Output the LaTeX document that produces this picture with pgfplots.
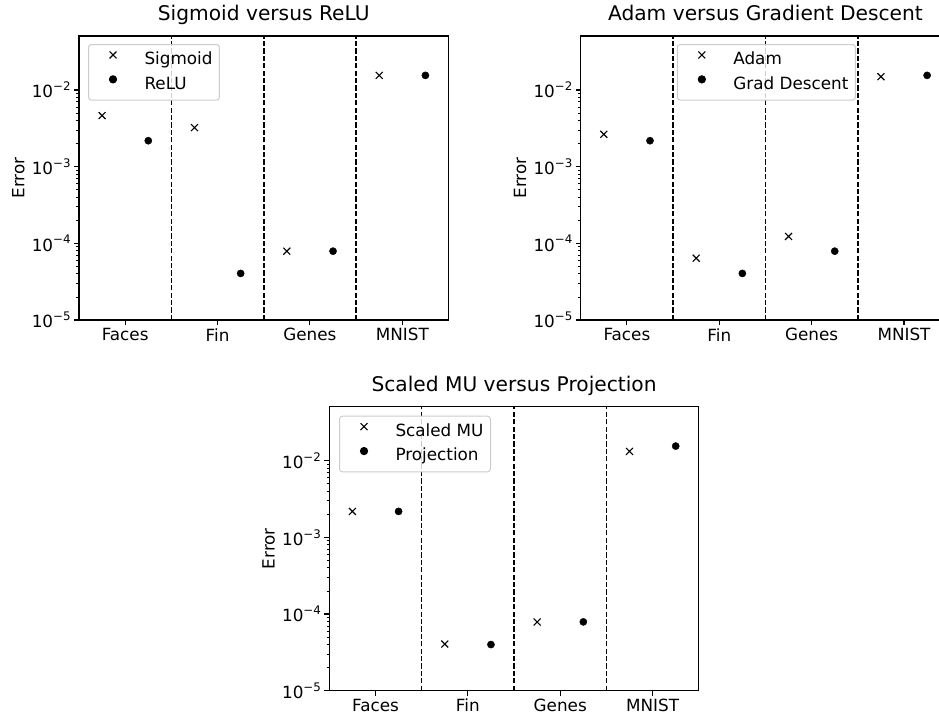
\documentclass[border=0pt]{standalone}
\usepackage{fontspec}
\setmainfont{DejaVu Sans}
\usepackage{pgfplots}
\pgfplotsset{compat=1.18}

\newcommand\basesize{\fontsize{16.8pt}{20pt}\selectfont}
\newcommand\titlesize{\fontsize{20.2pt}{24pt}\selectfont}
% power-of-ten tick label with a raised, smaller exponent
\newcommand\tenpow[1]{10\raisebox{0.42em}{\fontsize{11.8pt}{12pt}\selectfont −#1}}

\pgfplotsset{
  every axis/.append style={
    scale only axis, width=369.5pt, height=284pt,
    xmin=-0.5, xmax=3.5,
    xtick={0,1,2,3}, xticklabels={Faces,Fin,Genes,MNIST},
    ytick={1e-5,1e-4,1e-3,1e-2},
    yticklabels={\tenpow{5},\tenpow{4},\tenpow{3},\tenpow{2}},
    xtick pos=bottom, ytick pos=left,
    tick align=outside,
    major tick length=4.9pt, minor tick length=2.8pt,
    axis line style={line width=1.1pt},
    tick label style={font=\basesize},
    ylabel={Error}, label style={font=\basesize},
    ylabel style={at={(axis description cs:-0.164,0.5)}, anchor=center},
    title style={font=\titlesize, at={(axis description cs:0.5,1)}, anchor=base, yshift=9pt},
    legend cell align=left,
    legend style={anchor=north west, draw=black!20, rounded corners=3pt,
      fill=white, fill opacity=0.8, text opacity=1, line width=1pt,
      inner xsep=7pt, inner ysep=7pt, row sep=7pt, column sep=0pt,
      nodes={inner sep=0pt, text height=13pt, text depth=4pt, font=\basesize}},
  },
  every major tick/.append style={black, line width=1.1pt},
  every minor tick/.append style={black, line width=0.8pt},
  divider/.style={black, dash pattern=on 5.2pt off 2.2pt, line width=1.5pt, forget plot},
  xmk/.style={only marks, black, mark=x, mark size=4.9pt, mark options={line width=1.1pt},
    legend image code/.code={%
      \path (-17pt,0pt) (31pt,0pt);
      \draw[black, mark=x, mark size=4.9pt, line width=1.1pt, draw opacity=1]
        plot coordinates {(0pt,5.3pt)};}},
  dmk/.style={only marks, black, mark=*, mark size=3.6pt,
    legend image code/.code={%
      \path (-17pt,0pt) (31pt,0pt);
      \draw[black, mark=*, mark size=3.6pt, draw opacity=1, fill opacity=1]
        plot coordinates {(0pt,5.3pt)};}},
}

\begin{document}
\begin{tikzpicture}

% ---- Sigmoid versus ReLU ----
\begin{axis}[ymode=log, ymin=1e-5, ymax=0.0506,
  at={(79pt,394pt)}, anchor=south west, title={Sigmoid versus ReLU},
  legend style={at={(axis description cs:0.0244,0.9718)}}]
  \addplot[divider] coordinates {(0.5,1e-5) (0.5,0.0506)};
  \addplot[divider] coordinates {(1.5,1e-5) (1.5,0.0506)};
  \addplot[divider] coordinates {(2.5,1e-5) (2.5,0.0506)};
  \addplot[xmk] coordinates {(-0.25,4.63e-3) (0.75,3.23e-3) (1.75,7.9e-5) (2.75,1.55e-2)};
  \addlegendentry{Sigmoid}
  \addplot[dmk] coordinates {(0.25,2.18e-3) (1.25,4.05e-5) (2.25,7.9e-5) (3.25,1.55e-2)};
  \addlegendentry{ReLU}
\end{axis}

% ---- Adam versus Gradient Descent ----
\begin{axis}[ymode=log, ymin=1e-5, ymax=0.0506,
  at={(580.7pt,394pt)}, anchor=south west, title={Adam versus Gradient Descent},
  legend style={at={(axis description cs:0.2602,0.9718)}}]
  \addplot[divider] coordinates {(0.5,1e-5) (0.5,0.0506)};
  \addplot[divider] coordinates {(1.5,1e-5) (1.5,0.0506)};
  \addplot[divider] coordinates {(2.5,1e-5) (2.5,0.0506)};
  \addplot[xmk] coordinates {(-0.25,2.64e-3) (0.75,6.4e-5) (1.75,1.23e-4) (2.75,1.49e-2)};
  \addlegendentry{Adam}
  \addplot[dmk] coordinates {(0.25,2.18e-3) (1.25,4.05e-5) (2.25,7.9e-5) (3.25,1.55e-2)};
  \addlegendentry{Grad Descent}
\end{axis}

% ---- Scaled MU versus Projection ----
\begin{axis}[ymode=log, ymin=1e-5, ymax=0.0506,
  at={(329.3pt,23.3pt)}, anchor=south west, title={Scaled MU versus Projection},
  legend style={at={(axis description cs:0.0263,0.9683)}}]
  \addplot[divider] coordinates {(0.5,1e-5) (0.5,0.0506)};
  \addplot[divider] coordinates {(1.5,1e-5) (1.5,0.0506)};
  \addplot[divider] coordinates {(2.5,1e-5) (2.5,0.0506)};
  \addplot[xmk] coordinates {(-0.25,2.18e-3) (0.75,4.06e-5) (1.75,7.87e-5) (2.75,1.32e-2)};
  \addlegendentry{Scaled MU}
  \addplot[dmk] coordinates {(0.25,2.18e-3) (1.25,4.0e-5) (2.25,7.9e-5) (3.25,1.55e-2)};
  \addlegendentry{Projection}
\end{axis}

\pgfresetboundingbox
\path[use as bounding box] (0pt,0pt) rectangle (939pt,714pt);
\end{tikzpicture}
\end{document}
